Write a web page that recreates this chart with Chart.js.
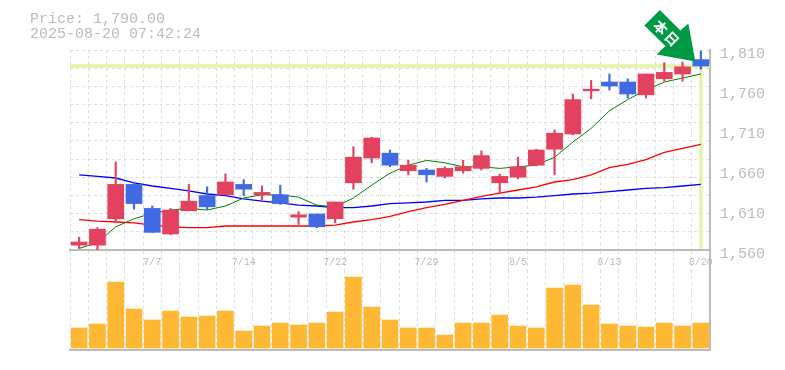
<!DOCTYPE html>
<html lang="ja">

<head>
    <meta charset="UTF-8">
    <title>Price chart</title>
    <script src="https://cdn.jsdelivr.net/npm/chart.js"></script>
    <style>
        body { margin: 0; background: #fff; }
        canvas { position: absolute; left: 0; }
        #priceChart { top: 0; }
        #volumeChart { top: 270px; }
    </style>
</head>

<body>
    <canvas id="priceChart" width="785" height="270"></canvas>
    <canvas id="volumeChart" width="785" height="82"></canvas>
</body>
<script>

    const dates = ['7/1', '7/2', '7/3', '7/4', '7/7', '7/8', '7/9', '7/10', '7/11', '7/14', '7/15', '7/16', '7/17', '7/18', '7/22', '7/23', '7/24', '7/25', '7/28', '7/29', '7/30', '7/31', '8/1', '8/4', '8/5', '8/6', '8/7', '8/8', '8/12', '8/13', '8/14', '8/15', '8/18', '8/19', '8/20'];
    const shownDates = ['7/7', '7/14', '7/22', '7/29', '8/5', '8/13', '8/20'];

    const opens = [1566, 1566, 1599, 1642, 1612, 1580, 1609, 1628, 1629, 1642, 1629, 1629, 1601, 1605, 1599, 1644, 1675, 1681, 1659, 1660, 1652, 1659, 1662, 1644, 1651, 1666, 1686, 1705, 1759, 1770, 1770, 1754, 1774, 1780, 1798];
    const highs = [1576, 1588, 1670, 1645, 1615, 1612, 1642, 1639, 1655, 1648, 1640, 1641, 1608, 1605, 1620, 1689, 1701, 1685, 1672, 1662, 1664, 1672, 1684, 1655, 1676, 1686, 1710, 1755, 1772, 1780, 1774, 1780, 1794, 1795, 1809];
    const lows = [1562, 1560, 1594, 1611, 1582, 1579, 1609, 1611, 1629, 1628, 1622, 1617, 1592, 1588, 1594, 1636, 1669, 1664, 1654, 1645, 1650, 1656, 1660, 1630, 1649, 1665, 1654, 1704, 1749, 1760, 1750, 1750, 1771, 1771, 1786];
    const closes = [1570, 1586, 1642, 1618, 1582, 1610, 1621, 1614, 1645, 1636, 1632, 1618, 1604, 1589, 1620, 1676, 1700, 1666, 1666, 1654, 1662, 1664, 1678, 1652, 1664, 1685, 1706, 1748, 1761, 1765, 1755, 1780, 1782, 1789, 1790];

    const maShort = [1562, 1569, 1589, 1599, 1606, 1610, 1612, 1610, 1615, 1625, 1629, 1629, 1626, 1616, 1614, 1625, 1641, 1656, 1666, 1672, 1669, 1664, 1664, 1662, 1664, 1666, 1676, 1695, 1712, 1734, 1748, 1760, 1770, 1775, 1780];
    const maMiddle = [1598, 1596, 1595, 1594, 1591, 1589, 1588, 1588, 1590, 1590, 1590, 1590, 1590, 1590, 1591, 1595, 1598, 1602, 1608, 1613, 1617, 1622, 1627, 1631, 1635, 1639, 1645, 1648, 1654, 1663, 1667, 1673, 1682, 1687, 1692];
    const maLong = [1654, 1652, 1650, 1644, 1640, 1637, 1634, 1630, 1628, 1624, 1621, 1619, 1616, 1615, 1613, 1613, 1615, 1618, 1619, 1620, 1622, 1622, 1624, 1625, 1625, 1626, 1628, 1630, 1631, 1633, 1635, 1637, 1638, 1640, 1642];

    const volumes = [20, 24, 66, 39, 28, 37, 31, 32, 37, 17, 22, 25, 23, 25, 36, 71, 41, 28, 20, 20, 13, 25, 25, 33, 22, 20, 60, 63, 43, 24, 22, 21, 25, 22, 25];

    const priceTicks = [1560, 1610, 1660, 1710, 1760, 1810];
    const lastPrice = 1790;

    const corTexto = '#bbbbbb';
    const corGrade = '#dddddd';
    const corMarca = '#e4f4a8';
    const fonteMono = '"Liberation Mono", monospace';

    const bodies = opens.map((o, i) => [o, closes[i]]);
    const wicks = lows.map((l, i) => [l, highs[i]]);
    const candleCores = opens.map((o, i) => closes[i] >= o ? '#e2425f' : '#4169e1');

    // linha do ultimo preco, atras dos candles
    const marcaPreco = {
        id: 'marcaPreco',
        beforeDatasetsDraw(chart) {
            const { ctx, chartArea, scales } = chart;
            const py = scales.y.getPixelForValue(lastPrice);
            const px = scales.x.getPixelForValue(dates.length - 1);
            ctx.save();
            ctx.strokeStyle = corMarca;
            ctx.lineWidth = 3.5;
            ctx.beginPath();
            ctx.moveTo(chartArea.left, py);
            ctx.lineTo(chartArea.right, py);
            ctx.moveTo(px, py);
            ctx.lineTo(px, chartArea.bottom - 1);
            ctx.stroke();
            ctx.restore();
        }
    };

    // textos do topo, a borda direita entre os paineis e a seta verde
    const extras = {
        id: 'extras',
        afterDraw(chart) {
            const { ctx, scales, chartArea } = chart;
            ctx.save();
            ctx.strokeStyle = corTexto;
            ctx.lineWidth = 2;
            ctx.beginPath();
            ctx.moveTo(chartArea.right, chartArea.bottom);
            ctx.lineTo(chartArea.right, chart.height);
            ctx.stroke();

            ctx.fillStyle = corTexto;
            ctx.font = '15px ' + fonteMono;
            ctx.textBaseline = 'middle';
            ctx.fillText('Price: 1,790.00', 30, 19);
            ctx.fillText('2025-08-20 07:42:24', 30, 34);

            const tx = scales.x.getPixelForValue(dates.length - 1) - 5.5;
            const ty = scales.y.getPixelForValue(lastPrice) - 4.5;
            const seta = [[0, 0], [-38.5, -7], [-30, -15.5], [-51, -36], [-35.5, -51.5], [-15, -31], [-7, -38]];
            ctx.fillStyle = '#009944';
            ctx.beginPath();
            seta.forEach((p, i) => i ? ctx.lineTo(tx + p[0], ty + p[1]) : ctx.moveTo(tx + p[0], ty + p[1]));
            ctx.closePath();
            ctx.fill();

            ctx.fillStyle = '#ffffff';
            ctx.font = 'bold 14px "Noto Sans CJK JP"';
            ctx.textAlign = 'center';
            ctx.translate(tx - 29, ty - 28.5);
            ctx.rotate(Math.PI / 4);
            ctx.fillText('本', -8, 0);
            ctx.fillText('日', 8, 0);
            ctx.restore();
        }
    };

    new Chart(document.getElementById('priceChart'), {
        type: 'bar',
        data: {
            labels: dates,
            datasets: [
                { type: 'line', data: maLong, borderColor: '#0000ff', borderWidth: 1.3, pointRadius: 0, tension: 0, order: 5 },
                { type: 'line', data: maMiddle, borderColor: '#ff0000', borderWidth: 1.3, pointRadius: 0, tension: 0, order: 4 },
                { type: 'line', data: maShort, borderColor: '#008000', borderWidth: 1, pointRadius: 0, tension: 0, order: 3 },
                { data: wicks, backgroundColor: candleCores, barThickness: 1.5, grouped: false, order: 2 },
                { data: bodies, backgroundColor: candleCores, barThickness: 16, grouped: false, order: 1 }
            ]
        },
        options: {
            responsive: false,
            animation: false,
            layout: { padding: { top: 50, left: 0, right: 0, bottom: 0 } },
            plugins: { legend: { display: false }, tooltip: { enabled: false } },
            scales: {
                x: {
                    afterFit(s) { s.height = 20; },
                    grid: { color: corGrade, tickLength: 20, tickBorderDash: [3, 3], offset: true },
                    border: { color: corTexto, width: 2, dash: [3, 3] },
                    ticks: {
                        autoSkip: false,
                        maxRotation: 0,
                        padding: -14,
                        color: corTexto,
                        font: { family: fonteMono, size: 10 },
                        callback(v) {
                            const d = this.getLabelForValue(v);
                            return shownDates.includes(d) ? d : '';
                        }
                    }
                },
                y: {
                    position: 'left',
                    min: 1560,
                    max: 1810,
                    afterFit(s) { s.width = 70; },
                    afterBuildTicks(s) {
                        s.ticks = [];
                        for (let k = 0; k <= 11; k++) s.ticks.push({ value: 1560 + k * 250 / 11 });
                    },
                    grid: { color: corGrade, drawTicks: false },
                    border: { display: false, dash: [3, 3] },
                    ticks: { display: false }
                },
                yPreco: {
                    position: 'right',
                    min: 1560,
                    max: 1810,
                    afterFit(s) { s.width = 75; },
                    afterBuildTicks(s) { s.ticks = priceTicks.map(v => ({ value: v })); },
                    grid: { display: false, drawTicks: false },
                    border: { color: corTexto, width: 2 },
                    ticks: {
                        padding: 10,
                        labelOffset: 4,
                        color: corTexto,
                        font: { family: fonteMono, size: 15 },
                        callback: v => v.toLocaleString('en-US')
                    }
                }
            }
        },
        plugins: [marcaPreco, extras]
    });

    new Chart(document.getElementById('volumeChart'), {
        type: 'bar',
        data: {
            labels: dates,
            datasets: [{ data: volumes, backgroundColor: '#ffb833', barThickness: 16 }]
        },
        options: {
            responsive: false,
            animation: false,
            layout: { padding: { left: 70 } },
            plugins: { legend: { display: false }, tooltip: { enabled: false } },
            scales: {
                x: {
                    afterFit(s) { s.height = 2; },
                    grid: { color: corGrade, drawTicks: false, offset: true },
                    border: { color: corTexto, width: 2, dash: [3, 3] },
                    ticks: { display: false }
                },
                y: {
                    position: 'right',
                    min: -2,
                    max: 78,
                    afterFit(s) { s.width = 75; },
                    grid: { display: false },
                    border: { color: corTexto, width: 2 },
                    ticks: { display: false }
                }
            }
        }
    });

</script>

</html>
